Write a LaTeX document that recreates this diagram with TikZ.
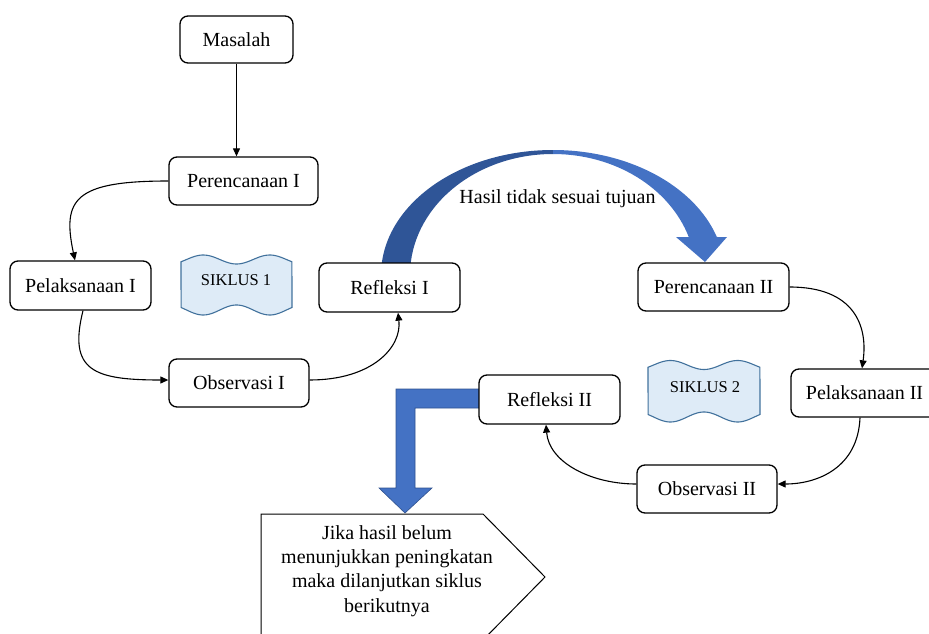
\documentclass[tikz,border=0pt]{standalone}
\usepackage{fontspec}
\setmainfont{Liberation Serif}
\usetikzlibrary{arrows.meta,calc}
\definecolor{darkblue}{HTML}{2F5597}
\definecolor{midblue}{HTML}{4472C4}
\definecolor{edgeblue}{HTML}{2F528F}
\definecolor{wavefill}{HTML}{DEEBF7}
\definecolor{waveedge}{HTML}{41719C}
\begin{document}
\begin{tikzpicture}[x=1pt,y=1pt,
  box/.style={draw=black, line width=1.3pt, rounded corners=8pt, fill=white,
    minimum height=48pt, inner sep=0pt, font=\fontsize{20}{24}\selectfont},
  conn/.style={line width=1.1pt, -{Triangle[length=8pt,width=7pt]}},
  banner/.style={draw=waveedge, fill=wavefill, line width=1.1pt},
  wavetext/.style={font=\fontsize{16.5}{20}\selectfont},
  bigarrow/.style={draw=edgeblue, line width=0.6pt, fill=midblue},
  note/.style={draw=black, line width=1pt, fill=white},
  plain/.style={font=\fontsize{20}{24.3}\selectfont, align=center, inner sep=0pt}]
\clip (0,0) rectangle (929,-634);

% curved blue arrow
\begin{scope}[shift={(553,-275)}]
  \fill[darkblue] (176.5:172 and 125) arc[start angle=176.5,end angle=90,x radius=172pt,y radius=125pt]
     -- (90:143 and 121) arc[start angle=90,end angle=176.5,x radius=143pt,y radius=121pt] -- cycle;
  \fill[midblue] (90:172 and 125) arc[start angle=90,end angle=17.7,x radius=172pt,y radius=125pt]
     -- (174,38) -- (152,13) -- (123,38)
     -- (18.3:143 and 121) arc[start angle=18.3,end angle=90,x radius=143pt,y radius=121pt] -- cycle;
\end{scope}
\node[plain] (hasil) at (557.5,-199) {Hasil tidak sesuai tujuan};

% bent blue arrow
\path[bigarrow] (482,-389) -- (396,-389) -- (396,-488) -- (379,-488) -- (405,-513)
   -- (432,-488) -- (415,-488) -- (415,-408) -- (482,-408) -- cycle;

% note pentagon
\path[note] (261,-514) -- (483,-514) -- (545,-577) -- (483,-640) -- (261,-640) -- cycle;
\node[plain] (notetext) at (387,-571) {Jika hasil belum\\menunjukkan peningkatan\\maka dilanjutkan siklus\\berikutnya};

% banners
\path[banner] plot[domain=0:1, samples=60, variable=\t] ({181+111*\t},{-259.5+4.5*cos(360*(\t-0.2)/0.6)})
   -- plot[domain=1:0, samples=60, variable=\t] ({181+111*\t},{-310-5*cos(360*(\t-0.2)/0.6)}) -- cycle;
\node[wavetext] (s1) at (236,-280) {SIKLUS 1};
\path[banner] plot[domain=0:1, samples=60, variable=\t] ({648+112*\t},{-365+4.5*cos(360*(\t-0.2)/0.6)})
   -- plot[domain=1:0, samples=60, variable=\t] ({648+112*\t},{-417-5*cos(360*(\t-0.2)/0.6)}) -- cycle;
\node[wavetext] (s2) at (705,-387) {SIKLUS 2};

% boxes
\node[box, minimum width=113pt, minimum height=47pt] (mas) at (236.5,-39.5) {Masalah};
\node[box, minimum width=149pt] (p1) at (243.5,-181) {Perencanaan I};
\node[box, minimum width=141pt, minimum height=49pt] (l1) at (80.5,-285.5) {Pelaksanaan I};
\node[box, minimum width=141pt, minimum height=49pt] (r1) at (389.5,-287.5) {Refleksi I};
\node[box, minimum width=140pt] (o1) at (239,-383) {Observasi I};
\node[box, minimum width=151pt] (p2) at (713.5,-287) {Perencanaan II};
\node[box, minimum width=147pt] (l2) at (864.5,-393) {Pelaksanaan II};
\node[box, minimum width=141pt, minimum height=49pt] (r2) at (549.5,-399.5) {Refleksi II};
\node[box, minimum width=140pt] (o2) at (707,-489) {Observasi II};

% connectors
\draw[conn] (mas.south) -- (mas.south |- p1.north);
\draw[conn] (p1.west) .. controls +(-94,0) and +(-13,61) .. ([xshift=-5.5pt]l1.north);
\draw[conn] ([xshift=2.5pt]l1.south) .. controls +(-15,-60) and +(-75,0) .. ([yshift=3pt]o1.west);
\draw[conn] ([yshift=3pt]o1.east) .. controls +(62,0) and +(4,-35) .. ([xshift=8.5pt]r1.south);
\draw[conn] (p2.east) .. controls +(65,0) and +(6,42) .. ([xshift=-2.5pt]l2.north);
\draw[conn] ([xshift=-4.5pt]l2.south) .. controls +(-2,-50) and +(40,0) .. ([yshift=5pt]o2.east);
\draw[conn] ([yshift=5pt]o2.west) .. controls +(-45,0) and +(3,-38) .. ([xshift=-3.5pt]r2.south);
\end{tikzpicture}
\end{document}
